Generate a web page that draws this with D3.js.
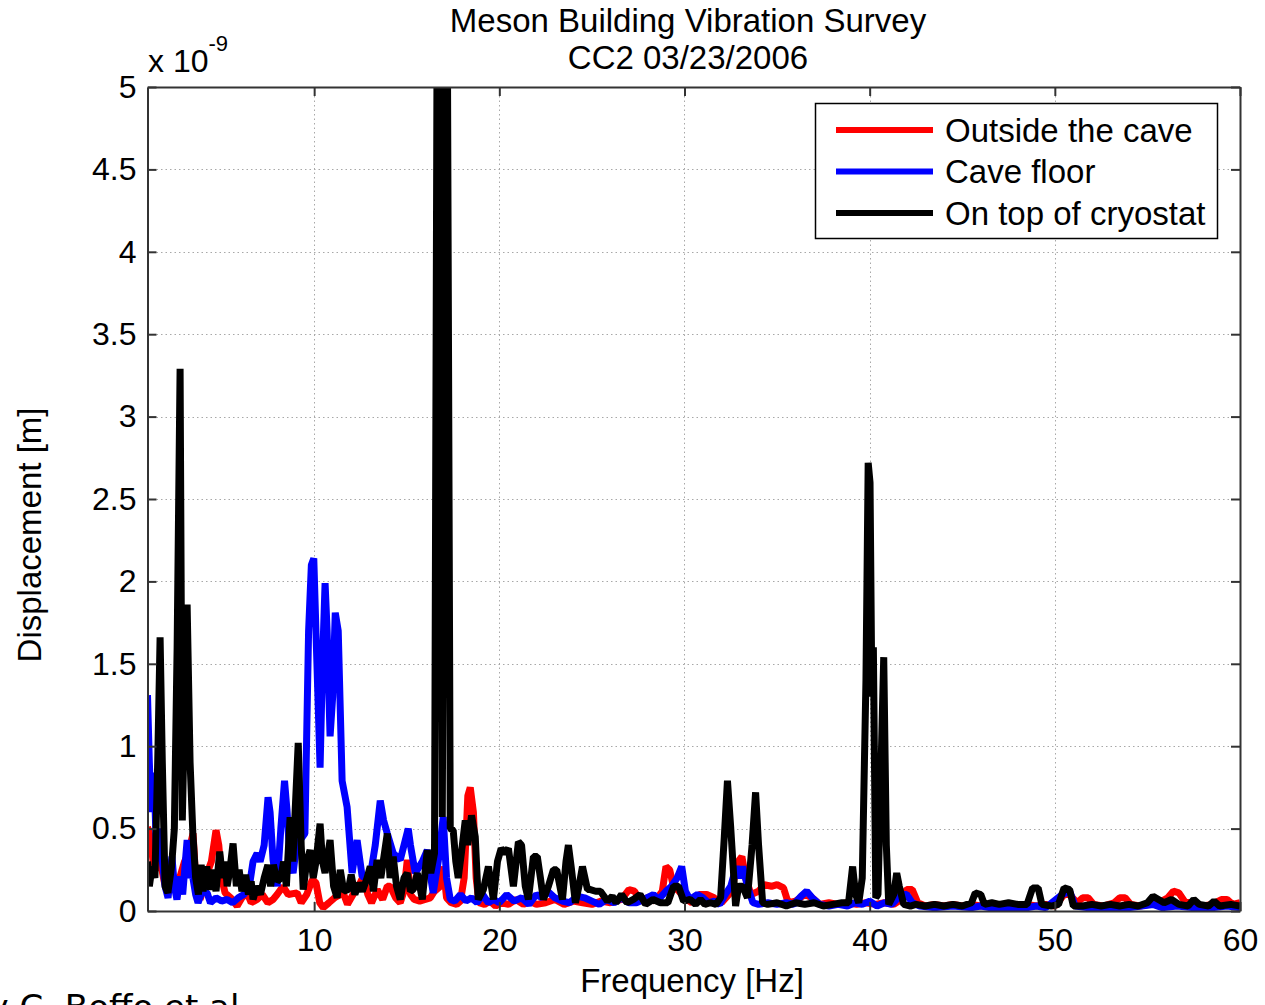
<!DOCTYPE html>
<html>
<head>
<meta charset="utf-8">
<script src="https://cdn.jsdelivr.net/npm/d3@7"></script>
<style>
  html, body { margin: 0; padding: 0; background: #fff; }
  svg { display: block; }
  text { font-family: "Liberation Sans", Arial, Helvetica, sans-serif; fill: #000; }
</style>
</head>
<body>
<svg id="chart" width="1265" height="1005"></svg>
<script>
// ---- data (frequency in Hz, displacement in units of 1e-9 m) ----
const titleLines = ["Meson Building Vibration Survey", "CC2 03/23/2006"];
const xTicks = [10, 20, 30, 40, 50, 60];
const yTicks = [0, 0.5, 1, 1.5, 2, 2.5, 3, 3.5, 4, 4.5, 5];
const seriesNames = ["Outside the cave", "Cave floor", "On top of cryostat"];
const seriesColors = ["#ff0000", "#0000ff", "#000000"];

const outsideCave = [[1.0,0.51],[1.15,0.45],[1.3,0.3],[1.51,0.25],[1.7,0.3],[1.9,0.18],[2.05,0.13],[2.3,0.2],[2.5,0.15],[2.76,0.21],[3.0,0.3],[3.2,0.35],[3.46,0.47],[3.6,0.2],[3.84,0.07],[4.05,0.15],[4.22,0.23],[4.45,0.3],[4.7,0.49],[4.85,0.4],[5.0,0.2],[5.19,0.11],[5.5,0.08],[5.84,0.03],[6.1,0.08],[6.38,0.11],[6.6,0.05],[6.92,0.07],[7.2,0.1],[7.5,0.05],[7.78,0.07],[8.0,0.1],[8.32,0.15],[8.6,0.1],[9.08,0.11],[9.3,0.05],[9.6,0.1],[9.9,0.19],[10.1,0.17],[10.3,0.05],[10.49,0.02],[10.8,0.05],[11.1,0.08],[11.57,0.11],[11.8,0.04],[12.1,0.1],[12.4,0.15],[12.65,0.21],[12.9,0.1],[13.1,0.05],[13.41,0.13],[13.7,0.07],[13.95,0.15],[14.11,0.15],[14.4,0.08],[14.65,0.05],[14.85,0.12],[15.03,0.31],[15.2,0.1],[15.4,0.07],[15.7,0.06],[16.0,0.07],[16.27,0.08],[16.5,0.12],[16.81,0.15],[16.97,0.27],[17.15,0.08],[17.4,0.05],[17.7,0.04],[17.9,0.06],[18.1,0.2],[18.3,0.7],[18.43,0.75],[18.6,0.6],[18.75,0.2],[18.9,0.05],[19.2,0.04],[19.5,0.06],[19.8,0.03],[20.1,0.05],[20.5,0.04],[20.9,0.07],[21.3,0.04],[21.6,0.06],[22.0,0.04],[22.5,0.05],[23.0,0.07],[23.5,0.04],[24.0,0.06],[24.5,0.05],[25.0,0.04],[25.5,0.06],[26.0,0.05],[26.6,0.07],[27.0,0.13],[27.3,0.12],[27.6,0.06],[28.0,0.08],[28.4,0.06],[28.8,0.12],[29.0,0.27],[29.2,0.25],[29.4,0.15],[29.7,0.12],[30.0,0.08],[30.4,0.05],[30.8,0.1],[31.2,0.1],[31.6,0.08],[32.0,0.05],[32.4,0.1],[32.7,0.2],[32.9,0.3],[33.1,0.33],[33.3,0.2],[33.6,0.1],[34.0,0.12],[34.3,0.16],[34.7,0.15],[35.0,0.16],[35.35,0.14],[35.6,0.05],[36.0,0.06],[36.5,0.1],[36.9,0.08],[37.3,0.04],[37.8,0.05],[38.3,0.04],[38.8,0.05],[39.3,0.04],[39.8,0.05],[40.3,0.04],[40.8,0.05],[41.3,0.04],[41.7,0.07],[42.0,0.13],[42.3,0.13],[42.6,0.05],[43.0,0.03],[43.5,0.04],[44.0,0.03],[44.5,0.04],[45.0,0.03],[45.5,0.04],[46.0,0.03],[46.5,0.04],[47.0,0.03],[47.5,0.04],[48.0,0.03],[48.5,0.04],[49.0,0.03],[49.5,0.04],[50.0,0.03],[50.5,0.1],[50.8,0.1],[51.2,0.05],[51.5,0.08],[51.8,0.08],[52.1,0.04],[52.6,0.03],[53.2,0.05],[53.5,0.08],[53.8,0.08],[54.1,0.04],[54.6,0.03],[55.1,0.04],[55.6,0.05],[56.1,0.08],[56.4,0.12],[56.7,0.11],[57.0,0.06],[57.5,0.04],[58.0,0.03],[58.5,0.04],[59.0,0.07],[59.3,0.07],[59.6,0.04],[60.0,0.05]];

const caveFloor = [[1.0,1.31],[1.1,0.9],[1.2,0.6],[1.35,0.84],[1.5,0.3],[1.65,0.5],[1.8,0.3],[1.95,0.15],[2.11,0.08],[2.32,0.33],[2.45,0.15],[2.59,0.07],[2.76,0.21],[2.9,0.1],[3.14,0.43],[3.3,0.2],[3.41,0.23],[3.6,0.1],[3.73,0.05],[3.95,0.12],[4.22,0.11],[4.4,0.05],[4.7,0.08],[5.0,0.06],[5.3,0.07],[5.6,0.05],[5.9,0.08],[6.2,0.1],[6.5,0.15],[6.7,0.3],[6.92,0.35],[7.08,0.3],[7.3,0.4],[7.51,0.69],[7.62,0.6],[7.78,0.31],[8.0,0.15],[8.2,0.5],[8.4,0.79],[8.54,0.6],[8.7,0.3],[8.86,0.23],[9.05,0.4],[9.24,0.43],[9.5,0.47],[9.7,1.7],[9.85,2.1],[9.98,2.14],[10.15,1.5],[10.32,0.87],[10.45,1.5],[10.59,1.99],[10.7,1.7],[10.86,1.06],[11.0,1.3],[11.14,1.81],[11.3,1.7],[11.51,0.79],[11.78,0.63],[12.05,0.23],[12.32,0.43],[12.59,0.21],[12.86,0.2],[13.03,0.21],[13.3,0.4],[13.57,0.67],[13.75,0.55],[13.95,0.47],[14.27,0.35],[14.65,0.31],[15.08,0.5],[15.2,0.4],[15.46,0.23],[15.84,0.3],[16.11,0.37],[16.3,0.2],[16.43,0.11],[16.7,0.3],[16.97,0.57],[17.15,0.2],[17.35,0.07],[17.6,0.06],[17.9,0.1],[18.2,0.06],[18.5,0.08],[18.8,0.05],[19.1,0.1],[19.4,0.05],[19.7,0.07],[20.0,0.05],[20.4,0.1],[20.8,0.06],[21.2,0.08],[21.6,0.04],[22.0,0.1],[22.3,0.08],[22.6,0.12],[23.0,0.08],[23.4,0.06],[23.8,0.05],[24.2,0.09],[24.6,0.08],[25.0,0.06],[25.4,0.04],[25.8,0.07],[26.2,0.05],[26.6,0.08],[27.0,0.05],[27.4,0.05],[27.8,0.07],[28.32,0.1],[28.6,0.07],[29.0,0.12],[29.3,0.15],[29.6,0.2],[29.85,0.27],[30.05,0.12],[30.3,0.07],[30.7,0.1],[31.0,0.08],[31.3,0.05],[31.6,0.06],[31.9,0.04],[32.2,0.1],[32.5,0.15],[32.8,0.27],[33.0,0.2],[33.14,0.27],[33.4,0.15],[33.7,0.05],[34.0,0.04],[34.5,0.05],[35.0,0.04],[35.5,0.05],[35.9,0.04],[36.3,0.09],[36.6,0.12],[36.9,0.08],[37.3,0.04],[37.8,0.03],[38.3,0.04],[38.8,0.03],[39.2,0.05],[39.6,0.04],[40.0,0.06],[40.4,0.03],[40.8,0.05],[41.2,0.04],[41.7,0.1],[42.0,0.1],[42.3,0.05],[42.7,0.03],[43.5,0.02],[44.5,0.03],[45.5,0.02],[46.0,0.03],[46.5,0.02],[47.5,0.02],[48.5,0.02],[49.0,0.03],[49.5,0.02],[50.4,0.1],[50.8,0.12],[51.1,0.03],[51.8,0.02],[53.0,0.02],[54.0,0.02],[55.3,0.04],[55.8,0.02],[56.6,0.03],[57.5,0.02],[58.5,0.02],[59.3,0.03],[60.0,0.02]];

const topOfCryostat = [[1.0,0.3],[1.1,0.15],[1.25,0.27],[1.4,0.2],[1.55,0.9],[1.68,1.66],[1.8,0.9],[1.95,0.15],[2.1,0.11],[2.3,0.27],[2.45,0.5],[2.6,1.6],[2.76,3.29],[2.88,0.55],[3.0,1.2],[3.14,1.86],[3.3,0.9],[3.45,0.47],[3.6,0.2],[3.75,0.1],[3.9,0.28],[4.0,0.12],[4.2,0.27],[4.4,0.13],[4.55,0.25],[4.7,0.12],[4.9,0.36],[5.05,0.2],[5.2,0.3],[5.3,0.15],[5.45,0.25],[5.62,0.41],[5.8,0.15],[5.95,0.25],[6.1,0.12],[6.3,0.22],[6.45,0.1],[6.6,0.18],[6.7,0.07],[6.9,0.15],[7.1,0.1],[7.3,0.2],[7.5,0.28],[7.65,0.15],[7.8,0.28],[8.0,0.18],[8.2,0.2],[8.35,0.3],[8.5,0.15],[8.7,0.57],[8.85,0.3],[9.14,1.02],[9.3,0.4],[9.41,0.13],[9.6,0.3],[9.78,0.37],[9.95,0.2],[10.1,0.3],[10.32,0.53],[10.45,0.3],[10.59,0.23],[10.86,0.43],[11.05,0.15],[11.24,0.08],[11.41,0.25],[11.6,0.12],[11.85,0.13],[12.0,0.22],[12.2,0.1],[12.4,0.17],[12.6,0.12],[12.86,0.2],[13.03,0.27],[13.2,0.12],[13.4,0.31],[13.6,0.2],[13.95,0.47],[14.1,0.2],[14.27,0.33],[14.45,0.15],[14.65,0.07],[14.85,0.2],[15.03,0.23],[15.2,0.12],[15.35,0.13],[15.57,0.23],[15.84,0.07],[16.11,0.37],[16.3,0.23],[16.5,0.35],[16.7,7.5],[16.92,0.57],[17.14,7.0],[17.35,0.5],[17.51,0.49],[17.65,0.3],[17.78,0.2],[17.95,0.35],[18.16,0.55],[18.3,0.4],[18.5,0.58],[18.7,0.45],[18.86,0.07],[19.14,0.13],[19.41,0.27],[19.68,0.07],[19.9,0.3],[20.1,0.38],[20.3,0.35],[20.49,0.38],[20.76,0.15],[21.03,0.42],[21.2,0.4],[21.4,0.15],[21.57,0.07],[21.84,0.33],[22.05,0.33],[22.22,0.2],[22.38,0.07],[22.65,0.15],[22.92,0.25],[23.1,0.25],[23.41,0.07],[23.6,0.3],[23.73,0.4],[23.9,0.25],[24.11,0.05],[24.3,0.15],[24.49,0.27],[24.76,0.13],[24.92,0.13],[25.2,0.12],[25.46,0.12],[25.84,0.06],[26.1,0.09],[26.3,0.05],[26.6,0.1],[26.9,0.05],[27.24,0.07],[27.6,0.1],[27.9,0.04],[28.3,0.07],[28.7,0.05],[29.1,0.05],[29.41,0.15],[29.68,0.15],[29.95,0.06],[30.3,0.07],[30.6,0.04],[30.86,0.07],[31.1,0.04],[31.4,0.05],[31.7,0.04],[31.95,0.08],[32.15,0.45],[32.32,0.79],[32.5,0.5],[32.76,0.03],[32.92,0.15],[33.14,0.15],[33.4,0.08],[33.65,0.4],[33.84,0.72],[34.0,0.4],[34.22,0.05],[34.5,0.04],[35.0,0.05],[35.5,0.03],[36.0,0.05],[36.5,0.04],[37.0,0.05],[37.5,0.03],[38.0,0.04],[38.5,0.05],[38.86,0.05],[39.08,0.27],[39.24,0.1],[39.41,0.05],[39.6,0.2],[39.8,1.4],[39.92,2.72],[40.02,2.6],[40.12,1.3],[40.2,1.6],[40.33,0.08],[40.45,0.1],[40.6,0.8],[40.76,1.54],[40.9,0.4],[41.03,0.04],[41.3,0.1],[41.46,0.23],[41.6,0.15],[41.84,0.04],[42.2,0.03],[42.5,0.04],[43.0,0.03],[43.5,0.04],[44.0,0.03],[44.5,0.04],[45.0,0.03],[45.5,0.05],[45.7,0.11],[46.0,0.1],[46.2,0.04],[46.6,0.05],[47.0,0.04],[47.5,0.05],[48.0,0.04],[48.5,0.04],[48.8,0.14],[49.1,0.14],[49.3,0.04],[49.8,0.03],[50.2,0.04],[50.5,0.14],[50.8,0.13],[51.0,0.03],[51.5,0.03],[52.0,0.04],[52.5,0.03],[53.0,0.04],[53.5,0.03],[54.0,0.04],[54.5,0.03],[55.0,0.05],[55.3,0.09],[55.6,0.07],[55.9,0.05],[56.3,0.07],[56.7,0.04],[57.2,0.03],[57.5,0.07],[57.8,0.04],[58.3,0.03],[58.6,0.06],[58.9,0.03],[59.5,0.04],[60.0,0.03]];

const allSeries = [outsideCave, caveFloor, topOfCryostat];

// ---- layout ----
const svg = d3.select("#chart");
const plot = { left: 147.5, right: 1240, top: 87, bottom: 911 };
const x = d3.scaleLinear().domain([1, 60]).range([plot.left, plot.right]);
const y = d3.scaleLinear().domain([0, 5]).range([plot.bottom, plot.top]);

svg.append("rect").attr("width", 1265).attr("height", 1005).attr("fill", "#fff");

svg.append("defs").append("clipPath").attr("id", "clip")
  .append("rect")
  .attr("x", plot.left).attr("y", plot.top)
  .attr("width", plot.right - plot.left).attr("height", plot.bottom - plot.top);

// grid
const grid = svg.append("g").attr("stroke", "#a8a8a8").attr("stroke-width", 1).attr("stroke-dasharray", "1.5,3");
grid.selectAll("line.gx").data(xTicks.filter(d => d < 60)).join("line")
  .attr("x1", d => Math.round(x(d)) + 0.5).attr("x2", d => Math.round(x(d)) + 0.5)
  .attr("y1", plot.top).attr("y2", plot.bottom);
grid.selectAll("line.gy").data(yTicks.filter(d => d > 0 && d < 5)).join("line")
  .attr("y1", d => Math.round(y(d)) + 0.5).attr("y2", d => Math.round(y(d)) + 0.5)
  .attr("x1", plot.left).attr("x2", plot.right);

// series
const line = d3.line().x(d => x(d[0])).y(d => y(d[1]));
const lines = svg.append("g").attr("clip-path", "url(#clip)");
allSeries.forEach((s, i) => {
  lines.append("path")
    .datum(s)
    .attr("d", line)
    .attr("fill", "none")
    .attr("stroke", seriesColors[i])
    .attr("stroke-width", 7)
    .attr("stroke-linejoin", "bevel");
});

// axes
const axisColor = "#333";
const tickFont = 32;
const textFont = 33;
function styleAxis(g) {
  g.select(".domain").attr("stroke", axisColor).attr("stroke-width", 2);
  g.selectAll(".tick line").attr("stroke", axisColor).attr("stroke-width", 2);
  g.selectAll(".tick text").attr("font-size", tickFont)
    .attr("font-family", "'Liberation Sans', Arial, sans-serif").attr("fill", "#000");
}
svg.append("g").attr("transform", `translate(0,${plot.bottom})`)
  .call(d3.axisBottom(x).tickValues(xTicks).tickSizeInner(-9).tickSizeOuter(0).tickPadding(17).tickFormat(d => String(d)))
  .call(styleAxis);
svg.append("g").attr("transform", `translate(0,${plot.top})`)
  .call(d3.axisTop(x).tickValues(xTicks).tickSizeInner(-9).tickSizeOuter(0).tickFormat(""))
  .call(styleAxis);
svg.append("g").attr("transform", `translate(${plot.left},0)`)
  .call(d3.axisLeft(y).tickValues(yTicks).tickSizeInner(-9).tickSizeOuter(0).tickPadding(11).tickFormat(d => String(d)))
  .call(styleAxis);
svg.append("g").attr("transform", `translate(${plot.right},0)`)
  .call(d3.axisRight(y).tickValues(yTicks).tickSizeInner(-9).tickSizeOuter(0).tickFormat(""))
  .call(styleAxis);

// titles
svg.append("text").attr("x", 688).attr("y", 32).attr("text-anchor", "middle").attr("font-size", textFont).text(titleLines[0]);
svg.append("text").attr("x", 688).attr("y", 69).attr("text-anchor", "middle").attr("font-size", textFont).text(titleLines[1]);

// exponent
const expo = svg.append("text").attr("x", 148).attr("y", 72).attr("font-size", 32);
expo.append("tspan").text("x 10");
expo.append("tspan").attr("font-size", 22).attr("dy", -21).text("-9");

// axis labels
svg.append("text").attr("x", 692).attr("y", 992).attr("text-anchor", "middle").attr("font-size", textFont).text("Frequency [Hz]");
svg.append("text").attr("transform", "translate(41,535) rotate(-90)").attr("text-anchor", "middle").attr("font-size", textFont).text("Displacement [m]");

// legend
const lg = svg.append("g");
lg.append("rect").attr("x", 815.5).attr("y", 103.5).attr("width", 402).attr("height", 135)
  .attr("fill", "#fff").attr("stroke", "#000").attr("stroke-width", 1.5);
seriesNames.forEach((name, i) => {
  const cy = 130 + i * 41.5;
  lg.append("line").attr("x1", 836).attr("x2", 933).attr("y1", cy).attr("y2", cy)
    .attr("stroke", seriesColors[i]).attr("stroke-width", 6);
  lg.append("text").attr("x", 945).attr("y", cy + 11.5).attr("font-size", textFont).text(name);
});

// cropped credit at the bottom-left edge (cut off in the reference too)
svg.append("text").attr("x", -33).attr("y", 1019).attr("font-size", 34)
  .style("font-family", "'DejaVu Sans', Verdana, sans-serif").text("by C. Boffo et al.");
</script>
</body>
</html>
